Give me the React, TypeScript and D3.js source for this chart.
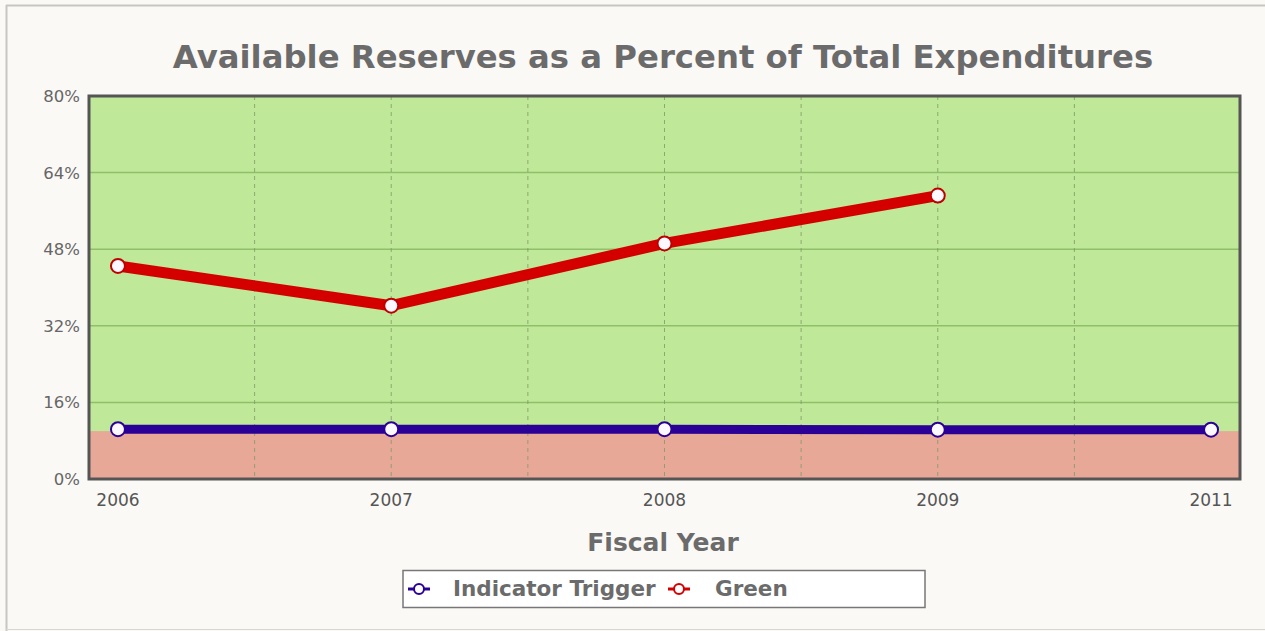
import React from "react";
import * as d3 from "d3";

const categories = ["2006", "2007", "2008", "2009", "2011"];
const triggerValues = [10.4, 10.4, 10.4, 10.3, 10.3];
const greenValues: (number | null)[] = [44.5, 36.2, 49.2, 59.2, null];
const yTicks = [0, 16, 32, 48, 64, 80];
const threshold = 10;

const W = 1265;
const H = 631;
const M = { left: 89, right: 1240, top: 96, bottom: 479 };
const FONT = "'DejaVu Sans', Verdana, sans-serif";

export default function App() {
  const x = d3
    .scalePoint<string>()
    .domain(categories)
    .range([M.left, M.right])
    .padding(0.106);
  const step = x.step();
  const y = d3.scaleLinear().domain([0, 80]).range([M.bottom, M.top]);

  const line = d3
    .line<[string, number | null]>()
    .defined((d) => d[1] != null)
    .x((d) => x(d[0]) as number)
    .y((d) => y(d[1] as number));

  const trigger = categories.map((c, i) => [c, triggerValues[i]] as [string, number | null]);
  const green = categories.map((c, i) => [c, greenValues[i]] as [string, number | null]);

  const vgrid: number[] = [];
  for (let k = 1; k <= 7; k++) {
    vgrid.push((x(categories[0]) as number) + (k * step) / 2);
  }

  const plotW = M.right - M.left;
  const plotH = M.bottom - M.top;

  return (
    <svg
      width={W}
      height={H}
      style={{ position: "absolute", left: 0, top: 0 }}
      fontFamily={FONT}
    >
      <rect x={0} y={0} width={W} height={H} fill="#fbf9f6" />
      <line x1={6.5} y1={5} x2={6.5} y2={H} stroke="#c8c6c2" strokeWidth={2} />
      <line x1={6} y1={5.5} x2={W} y2={5.5} stroke="#c8c6c2" strokeWidth={2} />
      <line x1={6} y1={629.5} x2={W} y2={629.5} stroke="#d8d6d2" strokeWidth={1} />

      <text
        x={663}
        y={68}
        textAnchor="middle"
        fontSize={32.3}
        fontWeight="bold"
        fill="#6b6b6b"
      >
        Available Reserves as a Percent of Total Expenditures
      </text>

      {/* plot background */}
      <rect x={M.left} y={M.top} width={plotW} height={plotH} fill="#bfe898" />
      <rect
        x={M.left}
        y={y(threshold)}
        width={plotW}
        height={M.bottom - y(threshold)}
        fill="#e8a898"
      />

      {/* horizontal grid */}
      {yTicks.slice(1, -1).map((t) => (
        <line
          key={t}
          x1={M.left}
          x2={M.right}
          y1={y(t)}
          y2={y(t)}
          stroke="#8fbf68"
          strokeWidth={1.5}
        />
      ))}
      {/* vertical grid */}
      {vgrid.map((gx, i) => (
        <line
          key={i}
          x1={gx}
          x2={gx}
          y1={M.top}
          y2={M.bottom}
          stroke="#7f9a6a"
          strokeWidth={1}
          strokeDasharray="4,4"
          opacity={0.8}
        />
      ))}

      {/* y tick labels */}
      {yTicks.map((t) => (
        <text
          key={t}
          x={80}
          y={y(t) + 6}
          textAnchor="end"
          fontSize={16.5}
          fill="#666"
        >
          {t}%
        </text>
      ))}

      {/* x tick labels */}
      {categories.map((c) => (
        <text
          key={c}
          x={x(c) as number}
          y={506}
          textAnchor="middle"
          fontSize={17}
          fill="#555"
        >
          {c}
        </text>
      ))}

      {/* plot border */}
      <rect
        x={M.left}
        y={M.top}
        width={plotW}
        height={plotH}
        fill="none"
        stroke="#555"
        strokeWidth={3}
      />

      {/* series */}
      <path
        d={line(trigger) || ""}
        fill="none"
        stroke="#2a0096"
        strokeWidth={9}
        strokeLinejoin="round"
      />
      <path
        d={line(green) || ""}
        fill="none"
        stroke="#d40000"
        strokeWidth={11}
        strokeLinejoin="round"
      />
      {trigger.map((d) => (
        <circle
          key={"t" + d[0]}
          cx={x(d[0]) as number}
          cy={y(d[1] as number)}
          r={7}
          fill="#fbf9ff"
          stroke="#2a0096"
          strokeWidth={2}
        />
      ))}
      {green
        .filter((d) => d[1] != null)
        .map((d) => (
          <circle
            key={"g" + d[0]}
            cx={x(d[0]) as number}
            cy={y(d[1] as number)}
            r={7}
            fill="#fbf9ff"
            stroke="#c00000"
            strokeWidth={2}
          />
        ))}

      <text
        x={663}
        y={551}
        textAnchor="middle"
        fontSize={25}
        fontWeight="bold"
        fill="#6b6b6b"
      >
        Fiscal Year
      </text>

      {/* legend */}
      <rect
        x={403}
        y={570.5}
        width={522}
        height={37}
        fill="#ffffff"
        stroke="#777"
        strokeWidth={1.5}
      />
      <g>
        <line x1={408} x2={430} y1={589} y2={589} stroke="#2a0096" strokeWidth={3} />
        <circle cx={419} cy={589} r={5} fill="#fff" stroke="#2a0096" strokeWidth={2} />
        <text x={453} y={596} fontSize={21.5} fontWeight="bold" fill="#6b6b6b">
          Indicator Trigger
        </text>
        <line x1={668} x2={690} y1={589} y2={589} stroke="#d40000" strokeWidth={3} />
        <circle cx={679} cy={589} r={5} fill="#fff" stroke="#d40000" strokeWidth={2} />
        <text x={715} y={596} fontSize={21.5} fontWeight="bold" fill="#6b6b6b">
          Green
        </text>
      </g>
    </svg>
  );
}
